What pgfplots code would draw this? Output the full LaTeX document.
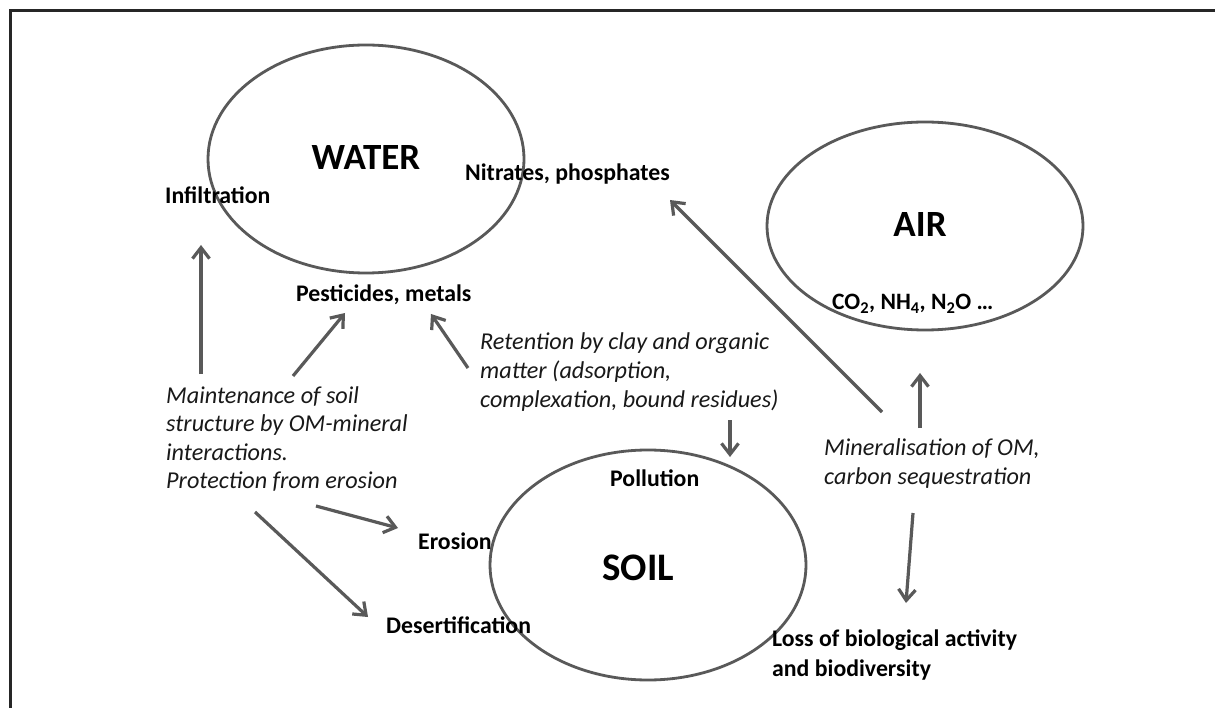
\documentclass[border=0pt]{standalone}
\usepackage{fontspec}
\setmainfont{Carlito}
\usepackage{pgfplots}
\pgfplotsset{compat=1.18}
\usetikzlibrary{arrows.meta}
\definecolor{linegray}{HTML}{595959}
\definecolor{framec}{HTML}{262626}
\tikzset{
  lbl/.style={font=\fontsize{23.8}{28.5}\selectfont\bfseries, anchor=base west, inner sep=0pt, text=black},
  itl/.style={font=\fontsize{24.2}{28.5}\selectfont\itshape, anchor=base west, inner sep=0pt, text=black!90},
  big/.style={font=\fontsize{37}{40}\selectfont\bfseries, anchor=base, inner sep=0pt, text=black},
  arr/.style={draw=linegray, line width=3.2pt, -{Straight Barb[length=11pt,width=17pt]}},
  ell/.style={draw=linegray, line width=2.8pt}
}
\begin{document}
\begin{tikzpicture}
\path[use as bounding box, fill=white] (0,0) rectangle (1215pt,708pt);
\begin{axis}[at={(0pt,0pt)}, anchor=south west,
  xmin=0, xmax=1215, ymin=0, ymax=708, y dir=reverse,
  width=1215pt, height=708pt, scale only axis, hide axis, clip=false]
% frame
\addplot[draw=framec, line width=3pt, mark=none] coordinates {(10,720) (10,11) (1225,11)};
% ellipses
\draw[ell] (axis cs:366,159) ellipse [x radius=158pt, y radius=114pt];
\draw[ell] (axis cs:925,226) ellipse [x radius=158pt, y radius=104pt];
\draw[ell] (axis cs:648,565) ellipse [x radius=158pt, y radius=115pt];
% arrows
\addplot[arr, mark=none] coordinates {(201,374) (201,245)};
\addplot[arr, mark=none] coordinates {(293,376) (345,313)};
\addplot[arr, mark=none] coordinates {(468,368) (431,314)};
\addplot[arr, mark=none] coordinates {(882,412) (670,200)};
\addplot[arr, mark=none] coordinates {(920,428) (920,373)};
\addplot[arr, mark=none] coordinates {(730,420) (730,457)};
\addplot[arr, mark=none] coordinates {(913,513) (906,603)};
\addplot[arr, mark=none] coordinates {(316,506) (398,528)};
\addplot[arr, mark=none] coordinates {(255,512) (368,617)};
% big labels
\node[big] at (axis cs:366,170) {WATER};
\node[big] at (axis cs:920,237) {AIR};
\node[big, font=\fontsize{39}{42}\selectfont\bfseries, anchor=base west] at (axis cs:602,580) {SOIL};
% bold labels
\node[lbl] at (axis cs:165,204) {Infiltration};
\node[lbl] at (axis cs:465,181) {Nitrates, phosphates};
\node[lbl] at (axis cs:296,302) {Pesticides, metals};
\node[lbl, font=\fontsize{23.5}{26}\selectfont\bfseries] at (axis cs:832,310) {CO\textsubscript{2}, NH\textsubscript{4}, N\textsubscript{2}O …};
\node[lbl] at (axis cs:610,486) {Pollution};
\node[lbl] at (axis cs:418,549) {Erosion};
\node[lbl] at (axis cs:386,633) {Desertification};
\node[lbl] at (axis cs:772,646) {Loss of biological activity};
\node[lbl] at (axis cs:772,676) {and biodiversity};
% italic texts
\node[itl] at (axis cs:480,350) {Retention by clay and organic};
\node[itl] at (axis cs:480,378.5) {matter (adsorption,};
\node[itl] at (axis cs:480,407) {complexation, bound residues)};
\node[itl] at (axis cs:166,403) {Maintenance of soil};
\node[itl] at (axis cs:166,431.5) {structure by OM-mineral};
\node[itl] at (axis cs:166,460) {interactions.};
\node[itl] at (axis cs:166,488.5) {Protection from erosion};
\node[itl] at (axis cs:824,455) {Mineralisation of OM,};
\node[itl] at (axis cs:824,484) {carbon sequestration};
\end{axis}
\end{tikzpicture}
\end{document}
